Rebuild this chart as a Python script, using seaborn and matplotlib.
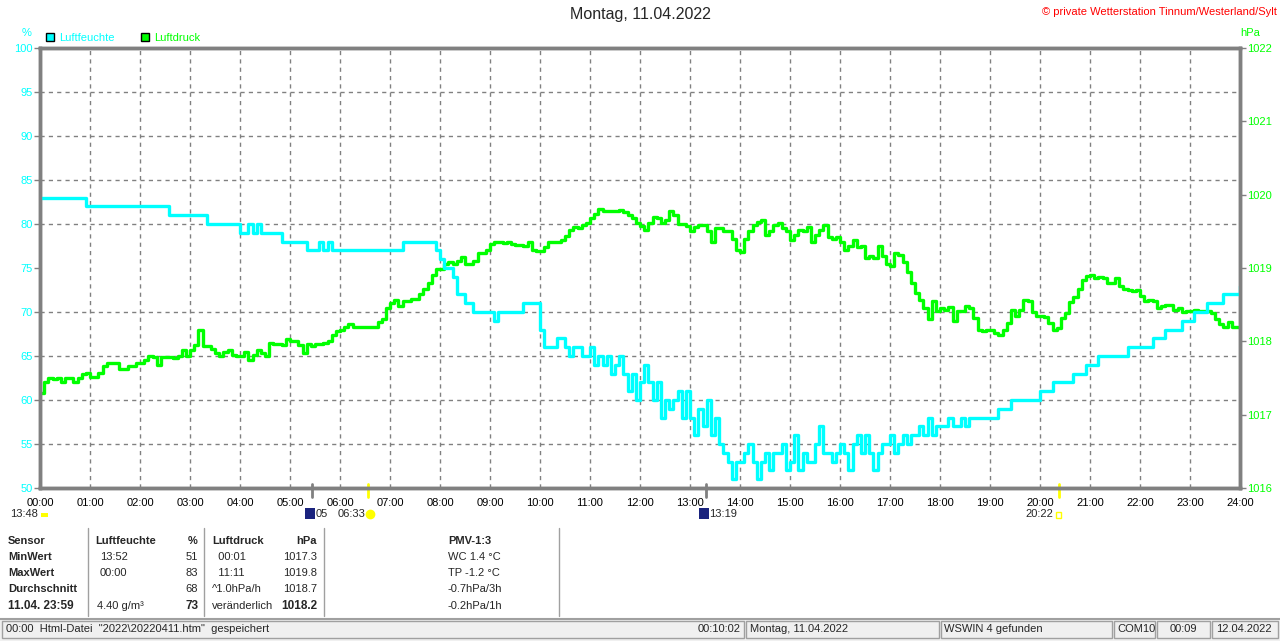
import numpy as np
import pandas as pd
import seaborn as sns
import matplotlib.pyplot as plt
from matplotlib.patches import Patch, Rectangle
from matplotlib.lines import Line2D

# Messwerte alle 5 Minuten, 00:00 bis 24:00 (eine Zeile je Stunde)
humidity = [
    83, 83, 83, 83, 83, 83, 83, 83, 83, 83, 83, 82,
    82, 82, 82, 82, 82, 82, 82, 82, 82, 82, 82, 82,
    82, 82, 82, 82, 82, 82, 82, 81, 81, 81, 81, 81,
    81, 81, 81, 81, 80, 80, 80, 80, 80, 80, 80, 80,
    79, 79, 80, 79, 80, 79, 79, 79, 79, 79, 78, 78,
    78, 78, 78, 78, 77, 77, 77, 78, 77, 78, 77, 77,
    77, 77, 77, 77, 77, 77, 77, 77, 77, 77, 77, 77,
    77, 77, 77, 78, 78, 78, 78, 78, 78, 78, 78, 77,
    76, 75, 75, 74, 72, 72, 71, 71, 70, 70, 70, 70,
    70, 69, 70, 70, 70, 70, 70, 70, 71, 71, 71, 71,
    68, 66, 66, 66, 67, 67, 66, 65, 66, 66, 65, 65,
    66, 64, 65, 64, 65, 63, 64, 65, 63, 61, 63, 60,
    62, 64, 62, 60, 62, 58, 60, 59, 60, 61, 58, 61,
    58, 56, 59, 57, 60, 56, 58, 55, 54, 53, 51, 53,
    53, 54, 55, 53, 51, 53, 54, 52, 54, 54, 55, 52,
    53, 56, 52, 54, 53, 53, 55, 57, 54, 54, 53, 54,
    55, 54, 52, 55, 56, 54, 56, 54, 52, 54, 55, 55,
    56, 54, 55, 56, 55, 56, 56, 57, 56, 58, 56, 57,
    57, 57, 58, 57, 57, 58, 57, 58, 58, 58, 58, 58,
    58, 58, 59, 59, 59, 60, 60, 60, 60, 60, 60, 60,
    61, 61, 61, 62, 62, 62, 62, 62, 63, 63, 63, 64,
    64, 64, 65, 65, 65, 65, 65, 65, 65, 66, 66, 66,
    66, 66, 66, 67, 67, 67, 68, 68, 68, 68, 69, 69,
    69, 70, 70, 70, 71, 71, 71, 71, 72, 72, 72, 72,
    73,
]

pressure = [
    1017.30, 1017.45, 1017.50, 1017.48, 1017.50, 1017.45, 1017.50, 1017.50, 1017.44, 1017.50, 1017.55, 1017.57,
    1017.52, 1017.52, 1017.57, 1017.66, 1017.70, 1017.70, 1017.70, 1017.62, 1017.62, 1017.67, 1017.67, 1017.70,
    1017.70, 1017.75, 1017.80, 1017.78, 1017.68, 1017.78, 1017.78, 1017.78, 1017.77, 1017.80, 1017.88, 1017.80,
    1017.88, 1017.95, 1018.15, 1017.93, 1017.93, 1017.90, 1017.84, 1017.80, 1017.85, 1017.88, 1017.82, 1017.80,
    1017.80, 1017.86, 1017.75, 1017.82, 1017.88, 1017.84, 1017.80, 1017.98, 1017.96, 1017.97, 1017.95, 1018.03,
    1018.01, 1018.00, 1017.95, 1017.84, 1017.97, 1017.94, 1017.96, 1017.96, 1017.98, 1018.00, 1018.08, 1018.14,
    1018.15, 1018.20, 1018.24, 1018.20, 1018.20, 1018.20, 1018.20, 1018.20, 1018.20, 1018.27, 1018.30, 1018.45,
    1018.52, 1018.57, 1018.48, 1018.55, 1018.55, 1018.58, 1018.58, 1018.65, 1018.72, 1018.80, 1018.90, 1018.98,
    1018.98, 1019.05, 1019.08, 1019.06, 1019.10, 1019.15, 1019.06, 1019.05, 1019.10, 1019.20, 1019.20, 1019.25,
    1019.33, 1019.36, 1019.36, 1019.34, 1019.36, 1019.33, 1019.31, 1019.31, 1019.30, 1019.35, 1019.25, 1019.23,
    1019.23, 1019.28, 1019.36, 1019.36, 1019.36, 1019.38, 1019.44, 1019.52, 1019.56, 1019.55, 1019.58, 1019.62,
    1019.68, 1019.73, 1019.80, 1019.78, 1019.78, 1019.78, 1019.78, 1019.79, 1019.76, 1019.72, 1019.68, 1019.62,
    1019.57, 1019.52, 1019.62, 1019.70, 1019.68, 1019.62, 1019.65, 1019.78, 1019.72, 1019.60, 1019.60, 1019.57,
    1019.50, 1019.56, 1019.58, 1019.58, 1019.50, 1019.36, 1019.55, 1019.54, 1019.50, 1019.50, 1019.40, 1019.25,
    1019.22, 1019.40, 1019.50, 1019.58, 1019.63, 1019.66, 1019.45, 1019.50, 1019.58, 1019.62, 1019.55, 1019.50,
    1019.38, 1019.45, 1019.52, 1019.50, 1019.56, 1019.36, 1019.45, 1019.52, 1019.58, 1019.42, 1019.40, 1019.42,
    1019.35, 1019.25, 1019.30, 1019.38, 1019.28, 1019.30, 1019.14, 1019.16, 1019.14, 1019.30, 1019.16, 1019.05,
    1019.03, 1019.20, 1019.18, 1019.08, 1018.95, 1018.80, 1018.66, 1018.56, 1018.45, 1018.30, 1018.55, 1018.42,
    1018.45, 1018.43, 1018.47, 1018.28, 1018.41, 1018.41, 1018.48, 1018.45, 1018.32, 1018.16, 1018.14, 1018.16,
    1018.16, 1018.12, 1018.08, 1018.16, 1018.25, 1018.43, 1018.35, 1018.43, 1018.57, 1018.55, 1018.40, 1018.35,
    1018.34, 1018.33, 1018.25, 1018.15, 1018.18, 1018.32, 1018.38, 1018.54, 1018.60, 1018.72, 1018.84, 1018.89,
    1018.90, 1018.86, 1018.88, 1018.86, 1018.80, 1018.80, 1018.86, 1018.76, 1018.72, 1018.70, 1018.68, 1018.70,
    1018.62, 1018.55, 1018.57, 1018.55, 1018.46, 1018.48, 1018.50, 1018.50, 1018.43, 1018.45, 1018.40, 1018.42,
    1018.41, 1018.43, 1018.41, 1018.41, 1018.41, 1018.39, 1018.30, 1018.23, 1018.20, 1018.27, 1018.20, 1018.20,
    1018.20,
]

minutes = np.arange(0, 24 * 60 + 1, 5)
hour_labels = [f"{h:02d}:00" for h in range(25)]

# Mond / Sonne (Stunden)
moon_events = [5.44, 13.32]
sun_events = [6.55, 20.37]

CYAN = "#00ffff"
GREEN = "#00ff00"
GRAY = "#808080"

sns.set_style("white")
plt.rcParams['font.family'] = ['Liberation Sans', 'DejaVu Sans']

df = pd.DataFrame({"Stunde": minutes / 60, "Luftfeuchte": humidity, "Luftdruck": pressure})

W, H = 1280, 641


def px(x, y):
    return x / W, 1 - y / H


fig = plt.figure(figsize=(12.8, 6.41), dpi=100)
ax = fig.add_axes([40 / W, 1 - 488 / H, 1200 / W, 440 / H])
axh = ax.twinx()

sns.lineplot(data=df, x="Stunde", y="Luftdruck", ax=ax, color=GREEN, lw=2.4,
             drawstyle="steps-post", estimator=None)
sns.lineplot(data=df, x="Stunde", y="Luftfeuchte", ax=axh, color=CYAN, lw=2.4,
             drawstyle="steps-post", estimator=None)

ax.set_xlim(0, 24)
ax.set_ylim(1016, 1022)
axh.set_ylim(50, 100)
ax.set_xlabel("")
ax.set_ylabel("")
axh.set_ylabel("")

# Druck rechts, Feuchte links
ax.yaxis.tick_right()
axh.yaxis.tick_left()
ax.set_yticks(range(1016, 1023))
ax.set_yticks(np.arange(1016, 1022.01, 0.6), minor=True)
axh.set_yticks(range(50, 101, 5))
ax.set_xticks(range(25))
ax.set_xticklabels(hour_labels)

ax.grid(False)
axh.grid(False)
ax.xaxis.grid(True, which="major", color=GRAY, ls=(0, (3, 3)), lw=1)
ax.yaxis.grid(True, which="minor", color=GRAY, ls=(0, (3, 3)), lw=1)

ax.tick_params(axis="x", colors=GRAY, labelcolor="black", length=4, width=1, labelsize=8, pad=3)
ax.tick_params(axis="y", which="major", colors=GRAY, labelcolor=GREEN, length=4, width=1,
               labelsize=8, pad=1, right=True, left=False, labelright=True, labelleft=False)
ax.tick_params(axis="y", which="minor", length=0)
axh.tick_params(axis="y", colors=GRAY, labelcolor=CYAN, length=4, width=1, labelsize=8, pad=1,
                left=True, right=False, labelleft=True, labelright=False)

for a in (ax, axh):
    for s in a.spines.values():
        s.set_color(GRAY)
        s.set_linewidth(2.5)

# Markierungen Mond / Sonne unter der Achse
for t in moon_events:
    ax.axvline(t, ymin=-0.02, ymax=0.01, color=GRAY, lw=2, clip_on=False)
for t in sun_events:
    ax.axvline(t, ymin=-0.02, ymax=0.01, color="#ffff00", lw=2, clip_on=False)

# Kopf
fig.text(*px(640, 15), "Montag, 11.04.2022", ha="center", va="center", fontsize=11.5)
fig.text(*px(1277, 12), "\u00a9 private Wetterstation Tinnum/Westerland/Sylt", ha="right",
         va="center", color="red", fontsize=8)
fig.text(*px(27, 33), "%", ha="center", va="center", color=CYAN, fontsize=8)
fig.text(*px(1250, 33), "hPa", ha="center", va="center", color=GREEN, fontsize=8)

handles = [Patch(facecolor=CYAN, edgecolor="black", lw=1),
           Patch(facecolor=GREEN, edgecolor="black", lw=1)]
fig.legend(handles, ["Luftfeuchte", "Luftdruck"], loc="center left", bbox_to_anchor=px(46, 38),
           ncol=2, frameon=False, fontsize=8, handlelength=0.75, handleheight=0.75,
           handletextpad=0.4, columnspacing=2.4, borderpad=0, borderaxespad=0,
           labelcolor=[CYAN, GREEN])

# Zeiten unter der Achse
fig.text(*px(38, 514), "13:48", ha="right", va="center", fontsize=8)
fig.add_artist(Rectangle(px(41, 517), 7 / W, 4 / H, transform=fig.transFigure,
                         facecolor="#ffff00", edgecolor="none"))
fig.add_artist(Rectangle(px(305, 519), 10 / W, 11 / H, transform=fig.transFigure,
                         facecolor="#1a237e", edgecolor="none"))
fig.text(*px(316, 514), "05", ha="left", va="center", fontsize=8)
fig.text(*px(365, 514), "06:33", ha="right", va="center", fontsize=8)
fig.add_artist(Line2D([px(370, 514)[0]], [px(370, 514)[1]], marker="o", ms=6, color="#ffff00",
                      transform=fig.transFigure))
fig.add_artist(Rectangle(px(699, 519), 10 / W, 11 / H, transform=fig.transFigure,
                         facecolor="#1a237e", edgecolor="none"))
fig.text(*px(709, 514), "13:19", ha="left", va="center", fontsize=8)
fig.text(*px(1053, 514), "20:22", ha="right", va="center", fontsize=8)
fig.add_artist(Rectangle(px(1056, 518), 5 / W, 6 / H, transform=fig.transFigure,
                         facecolor="none", edgecolor="#ffff00", lw=1))

# Tabelle
rows_y = [541, 557, 573, 589, 606]
col1 = ["Sensor", "MinWert", "MaxWert", "Durchschnitt", "11.04. 23:59"]
for y, t in zip(rows_y, col1):
    fig.text(*px(8, y), t, ha="left", va="center", fontsize=8.5 if y == 606 else 8, weight="bold")

fig.text(*px(95, 541), "Luftfeuchte", ha="left", va="center", fontsize=8, weight="bold")
fig.text(*px(198, 541), "%", ha="right", va="center", fontsize=8, weight="bold")
for y, t, v in zip(rows_y[1:], ["13:52", "00:00", "", "4.40 g/m\u00b3"], ["51", "83", "68", "73"]):
    fig.text(*px(100 if t != "4.40 g/m\u00b3" else 97, y), t, ha="left", va="center", fontsize=8)
    fig.text(*px(198, y), v, ha="right", va="center", fontsize=8.5 if v == "73" else 8,
             weight="bold" if v == "73" else "normal")

fig.text(*px(212, 541), "Luftdruck", ha="left", va="center", fontsize=8, weight="bold")
fig.text(*px(317, 541), "hPa", ha="right", va="center", fontsize=8, weight="bold")
for y, t, v in zip(rows_y[1:], ["  00:01", "  11:11", "^1.0hPa/h", "ver\u00e4nderlich"],
                   ["1017.3", "1019.8", "1018.7", "1018.2"]):
    fig.text(*px(212, y), t, ha="left", va="center", fontsize=8)
    fig.text(*px(317, y), v, ha="right", va="center", fontsize=8.5 if v == "1018.2" else 8,
             weight="bold" if v == "1018.2" else "normal")

fig.text(*px(448, 541), "PMV-1:3", ha="left", va="center", fontsize=8, weight="bold")
for y, t in zip(rows_y[1:], ["WC 1.4 \u00b0C", "TP -1.2 \u00b0C", "-0.7hPa/3h", "-0.2hPa/1h"]):
    fig.text(*px(448, y), t, ha="left", va="center", fontsize=8)

for x in [88, 204, 324, 559]:
    fig.add_artist(Line2D([x / W, x / W], [1 - 528 / H, 1 - 616 / H], color="#a0a0a0", lw=1,
                          transform=fig.transFigure))

# Statusleiste
fig.add_artist(Rectangle(px(0, 641), 1, 23 / H, transform=fig.transFigure,
                         facecolor="#f0f0f0", edgecolor="none"))
fig.add_artist(Line2D([0, 1], [1 - 618.5 / H, 1 - 618.5 / H], color="#a0a0a0", lw=1.5,
                      transform=fig.transFigure))
panels = [(2, 744), (746, 939), (941, 1112), (1114, 1155), (1157, 1210), (1212, 1278)]
for x0, x1 in panels:
    fig.add_artist(Rectangle(px(x0, 638), (x1 - x0) / W, 17 / H, transform=fig.transFigure,
                             facecolor="none", edgecolor="#a0a0a0", lw=1))

status = [
    (6, "left", "00:00  Html-Datei  \"2022\\20220411.htm\"  gespeichert"),
    (741, "right", "00:10:02"),
    (750, "left", "Montag, 11.04.2022"),
    (944, "left", "WSWIN 4 gefunden"),
    (1117, "left", "COM10"),
    (1183, "center", "00:09"),
    (1216, "left", "12.04.2022"),
]
for x, ha, t in status:
    fig.text(*px(x, 629.5), t, ha=ha, va="center", fontsize=8)

fig.savefig("out.png", dpi=100)
